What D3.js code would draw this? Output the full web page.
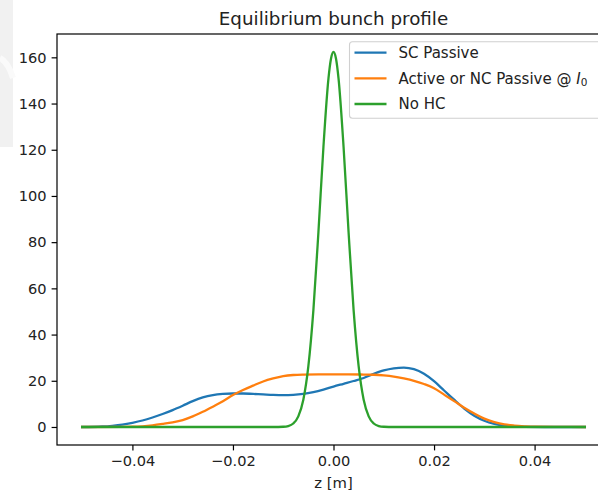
<!DOCTYPE html>
<html>
<head>
<meta charset="utf-8">
<script src="https://cdn.jsdelivr.net/npm/d3@7"></script>
<style>
  html, body { margin: 0; padding: 0; background: #fff; overflow: hidden; }
  svg { display: block; font-family: "DejaVu Sans", sans-serif; }
</style>
</head>
<body>
<svg id="chart" width="598" height="492"></svg>
<script>
// Longitudinal positions z [m] and line densities for each case
const zSC = [-0.050, -0.046, -0.044, -0.042, -0.040, -0.038, -0.036, -0.034, -0.032, -0.030,
             -0.028, -0.026, -0.024, -0.022, -0.020, -0.018, -0.016, -0.014, -0.012, -0.010,
             -0.008, -0.006, -0.004, -0.002, 0.000, 0.002, 0.004, 0.006, 0.008, 0.010,
             0.012, 0.014, 0.016, 0.018, 0.020, 0.022, 0.024, 0.026, 0.028, 0.030,
             0.032, 0.034, 0.036, 0.038, 0.042, 0.050];
const scPassive = [0.0, 0.2, 0.5, 1.0, 1.8, 2.8, 4.1, 5.6, 7.3, 9.2,
                   11.2, 12.8, 13.8, 14.3, 14.5, 14.5, 14.3, 14.1, 13.9, 13.8,
                   13.9, 14.3, 15.1, 16.2, 17.5, 18.7, 19.9, 21.2, 23.0, 24.5,
                   25.4, 25.7, 25.0, 23.0, 19.8, 15.8, 11.8, 8.0, 4.9, 2.7,
                   1.3, 0.5, 0.2, 0.05, 0.0, 0.0];

const zActive = [-0.050, -0.042, -0.040, -0.038, -0.036, -0.034, -0.032, -0.030, -0.028, -0.026,
                 -0.024, -0.022, -0.020, -0.018, -0.016, -0.014, -0.012, -0.010, -0.008, -0.006,
                 -0.003, 0.000, 0.003, 0.006, 0.008, 0.010, 0.012, 0.014, 0.016, 0.018,
                 0.020, 0.022, 0.024, 0.026, 0.028, 0.030, 0.032, 0.034, 0.036, 0.038,
                 0.040, 0.044, 0.050];
const activeNC = [0.0, 0.05, 0.1, 0.3, 0.7, 1.3, 2.0, 3.0, 4.6, 6.6,
                  8.8, 11.1, 13.8, 16.0, 17.9, 19.7, 21.0, 22.0, 22.5, 22.7,
                  22.8, 22.8, 22.8, 22.7, 22.6, 22.3, 21.8, 21.0, 20.0, 18.6,
                  16.8, 14.0, 11.2, 8.3, 5.8, 3.6, 2.1, 1.1, 0.6, 0.3,
                  0.1, 0.02, 0.0];

const zNoHC = [-0.050, -0.012, -0.010, -0.009, -0.008, -0.007, -0.006, -0.005, -0.004, -0.003,
               -0.002, -0.001, -0.0005, 0.000, 0.0005, 0.001, 0.002, 0.003, 0.004, 0.005,
               0.006, 0.007, 0.008, 0.009, 0.010, 0.012, 0.050];
const noHC = [0.0, 0.0, 0.1, 0.4, 1.5, 4.6, 11.8, 26.3, 50.6, 84.3,
              121.3, 150.9, 159.4, 162.3, 159.4, 150.9, 121.3, 84.3, 50.6, 26.3,
              11.8, 4.6, 1.5, 0.4, 0.1, 0.0, 0.0];

const seriesNames = ["SC Passive", "Active or NC Passive @ ", "No HC"];
const seriesColors = ["#1f77b4", "#ff7f0e", "#2ca02c"];
const xTicks = [-0.04, -0.02, 0.00, 0.02, 0.04];
const yTicks = [0, 20, 40, 60, 80, 100, 120, 140, 160];

const svg = d3.select("#chart");

// faint grey swoosh in the top-left corner
svg.append("rect").attr("x", 0).attr("y", 0).attr("width", 13).attr("height", 147).attr("fill", "#f1f1f1");
svg.append("path").attr("d", "M0,58 Q8,62 13,78").attr("fill", "none").attr("stroke", "#fafafa").attr("stroke-width", 6);

const plotLeft = 57, plotRight = 610, plotTop = 34, plotBottom = 445;
const x = d3.scaleLinear().domain([-0.055, 0.055]).range([plotLeft, plotRight]);
const y = d3.scaleLinear().domain([-7.8, 170.1]).range([plotBottom, plotTop]);

svg.append("defs").append("clipPath").attr("id", "plotClip")
  .append("rect").attr("x", plotLeft).attr("y", plotTop)
  .attr("width", plotRight - plotLeft).attr("height", plotBottom - plotTop);

const line = d3.line().x(d => x(d[0])).y(d => y(d[1])).curve(d3.curveMonotoneX);

const data = [
  d3.zip(zSC, scPassive),
  d3.zip(zActive, activeNC),
  d3.zip(zNoHC, noHC)
];

const plot = svg.append("g").attr("clip-path", "url(#plotClip)");
data.forEach((d, i) => {
  plot.append("path").datum(d)
    .attr("d", line)
    .attr("fill", "none")
    .attr("stroke", seriesColors[i])
    .attr("stroke-width", 2.3)
    .attr("stroke-linejoin", "round")
    .attr("stroke-linecap", "square");
});

// axes
const fmtX = d3.format(".2f");
const xAxis = d3.axisBottom(x).tickValues(xTicks).tickFormat(fmtX).tickSize(5.4).tickSizeOuter(0).tickPadding(5);
const yAxis = d3.axisLeft(y).tickValues(yTicks).tickFormat(d3.format("d")).tickSize(5.4).tickSizeOuter(0).tickPadding(5);

const gx = svg.append("g").attr("transform", `translate(0,${plotBottom})`).call(xAxis);
const gy = svg.append("g").attr("transform", `translate(${plotLeft},0)`).call(yAxis);
[gx, gy].forEach(g => {
  g.select(".domain").remove();
  g.selectAll(".tick line").attr("stroke", "#000").attr("stroke-width", 1.2);
  g.selectAll(".tick text").attr("fill", "#222").style("font-size", "14.6px").style("font-family", "DejaVu Sans");
});

// frame
svg.append("rect").attr("x", plotLeft).attr("y", plotTop)
  .attr("width", plotRight - plotLeft).attr("height", plotBottom - plotTop)
  .attr("fill", "none").attr("stroke", "#000").attr("stroke-width", 1.2);

// title and axis label
svg.append("text").attr("x", (plotLeft + plotRight) / 2).attr("y", 25).attr("text-anchor", "middle")
  .style("font-size", "18.3px").attr("fill", "#222").text("Equilibrium bunch profile");
svg.append("text").attr("x", (plotLeft + plotRight) / 2).attr("y", 487.5).attr("text-anchor", "middle")
  .style("font-size", "14.8px").attr("fill", "#222").text("z [m]");

// legend
const lg = svg.append("g");
lg.append("rect").attr("x", 349.5).attr("y", 41.7).attr("width", 253).attr("height", 76.5)
  .attr("rx", 3).attr("fill", "#fff").attr("fill-opacity", 0.8).attr("stroke", "#d0d0d0").attr("stroke-width", 1.1);
const rowsY = [52.7, 78.3, 104];
seriesNames.forEach((name, i) => {
  lg.append("line").attr("x1", 354.5).attr("x2", 386.5).attr("y1", rowsY[i]).attr("y2", rowsY[i])
    .attr("stroke", seriesColors[i]).attr("stroke-width", 2.3);
  const t = lg.append("text").attr("x", 398.5).attr("y", rowsY[i] + 5.3).style("font-size", "15px").attr("fill", "#222");
  t.append("tspan").text(name);
  if (i === 1) {
    t.append("tspan").style("font-style", "italic").text("I");
    t.append("tspan").attr("dy", 2.5).style("font-size", "10.5px").text("0");
  }
});
</script>
</body>
</html>
